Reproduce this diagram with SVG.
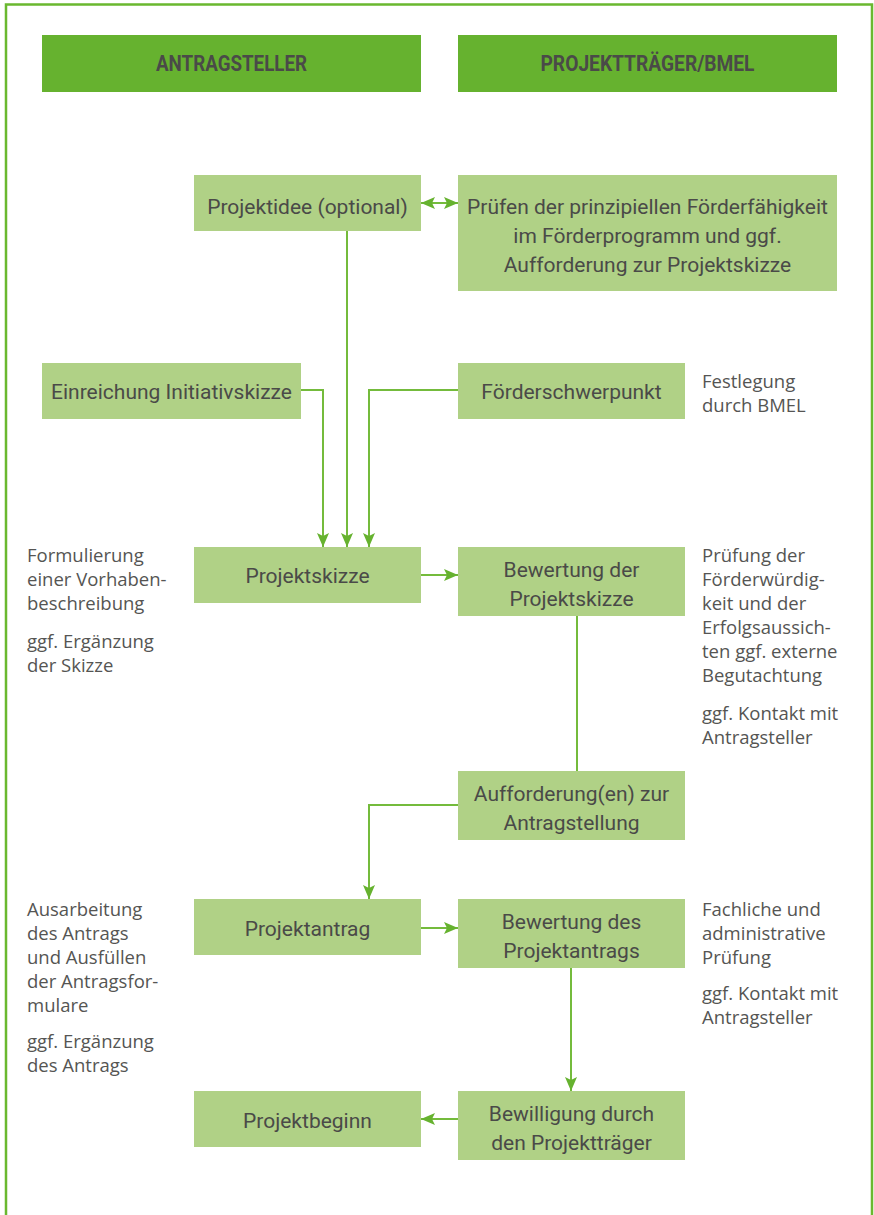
<svg xmlns="http://www.w3.org/2000/svg" width="874" height="1215" viewBox="0 0 874 1215">
<defs>
<style>
.hdr{fill:#66b22f}
.box{fill:#b0d186}
.ht{font-family:Roboto,"Liberation Sans",sans-serif;font-weight:bold;font-size:22px;fill:#4a4a48;text-anchor:middle}
.nt{font-family:Roboto,"Liberation Sans",sans-serif;font-size:21px;fill:#4a4a48;text-anchor:middle}
.st{font-family:"Open Sans","Liberation Sans",sans-serif;font-size:18.5px;fill:#555553}
.ln{fill:none;stroke:#74bb3c;stroke-width:2}
</style>
<marker id="ah" viewBox="0 0 14 12" refX="14" refY="6" markerWidth="14" markerHeight="12" markerUnits="userSpaceOnUse" orient="auto-start-reverse">
<path d="M0,0 L14,6 L0,12 L3,6 Z" fill="#66b22f"/>
</marker>
</defs>
<path d="M6,1215 V4.5 H872 V1215" fill="none" stroke="#6ab82f" stroke-width="2.5"/>

<g id="h1"><rect class="hdr" x="42" y="35" width="379" height="57"/><text class="ht" x="231.5" y="71" textLength="151" lengthAdjust="spacingAndGlyphs">ANTRAGSTELLER</text></g>
<g id="h2"><rect class="hdr" x="458" y="35" width="379" height="57"/><text class="ht" x="647.5" y="71" textLength="214" lengthAdjust="spacingAndGlyphs">PROJEKTTRÄGER/BMEL</text></g>

<g id="connectors">
<line class="ln" x1="421" y1="203" x2="458" y2="203" marker-start="url(#ah)" marker-end="url(#ah)"/>
<line class="ln" x1="347" y1="231" x2="347" y2="547" marker-end="url(#ah)"/>
<polyline class="ln" points="301,390 323,390 323,547" marker-end="url(#ah)"/>
<polyline class="ln" points="458,390 369,390 369,547" marker-end="url(#ah)"/>
<line class="ln" x1="421" y1="575" x2="458" y2="575" marker-end="url(#ah)"/>
<line class="ln" x1="577" y1="616" x2="577" y2="771"/>
<polyline class="ln" points="458,805 369,805 369,899" marker-end="url(#ah)"/>
<line class="ln" x1="421" y1="928" x2="458" y2="928" marker-end="url(#ah)"/>
<line class="ln" x1="571" y1="968" x2="571" y2="1091" marker-end="url(#ah)"/>
<line class="ln" x1="458" y1="1119" x2="421" y2="1119" marker-end="url(#ah)"/>
</g>

<g id="n1"><rect class="box" x="194" y="175" width="227" height="56"/><text class="nt" x="307.5" y="214">Projektidee (optional)</text></g>
<g id="n2"><rect class="box" x="458" y="175" width="379" height="116"/><text class="nt" x="647.5" y="214">Prüfen der prinzipiellen Förderfähigkeit</text><text class="nt" x="647.5" y="243">im Förderprogramm und ggf.</text><text class="nt" x="647.5" y="272">Aufforderung zur Projektskizze</text></g>
<g id="n3"><rect class="box" x="42" y="363" width="259" height="56"/><text class="nt" x="171.5" y="399">Einreichung Initiativskizze</text></g>
<g id="n4"><rect class="box" x="458" y="363" width="227" height="56"/><text class="nt" x="571.5" y="399">Förderschwerpunkt</text></g>
<g id="n5"><rect class="box" x="194" y="547" width="227" height="56"/><text class="nt" x="307.5" y="583">Projektskizze</text></g>
<g id="n6"><rect class="box" x="458" y="547" width="227" height="69"/><text class="nt" x="571.5" y="577">Bewertung der</text><text class="nt" x="571.5" y="606">Projektskizze</text></g>
<g id="n7"><rect class="box" x="458" y="771" width="227" height="69"/><text class="nt" x="571.5" y="801">Aufforderung(en) zur</text><text class="nt" x="571.5" y="830">Antragstellung</text></g>
<g id="n8"><rect class="box" x="194" y="899" width="227" height="56"/><text class="nt" x="307.5" y="936">Projektantrag</text></g>
<g id="n9"><rect class="box" x="458" y="899" width="227" height="69"/><text class="nt" x="571.5" y="929">Bewertung des</text><text class="nt" x="571.5" y="958">Projektantrags</text></g>
<g id="n10"><rect class="box" x="194" y="1091" width="227" height="56"/><text class="nt" x="307.5" y="1128">Projektbeginn</text></g>
<g id="n11"><rect class="box" x="458" y="1091" width="227" height="69"/><text class="nt" x="571.5" y="1121">Bewilligung durch</text><text class="nt" x="571.5" y="1150">den Projektträger</text></g>

<g id="notes">
<text class="st" x="702" y="388">Festlegung</text>
<text class="st" x="702" y="412">durch BMEL</text>
<text class="st" x="27" y="562">Formulierung</text>
<text class="st" x="27" y="586">einer Vorhaben-</text>
<text class="st" x="27" y="610">beschreibung</text>
<text class="st" x="27" y="648">ggf. Ergänzung</text>
<text class="st" x="27" y="672">der Skizze</text>
<text class="st" x="702" y="562">Prüfung der</text>
<text class="st" x="702" y="586">Förderwürdig-</text>
<text class="st" x="702" y="610">keit und der</text>
<text class="st" x="702" y="634">Erfolgsaussich-</text>
<text class="st" x="702" y="658">ten ggf. externe</text>
<text class="st" x="702" y="682">Begutachtung</text>
<text class="st" x="702" y="720">ggf. Kontakt mit</text>
<text class="st" x="702" y="744">Antragsteller</text>
<text class="st" x="27" y="916">Ausarbeitung</text>
<text class="st" x="27" y="940">des Antrags</text>
<text class="st" x="27" y="964">und Ausfüllen</text>
<text class="st" x="27" y="988">der Antragsfor-</text>
<text class="st" x="27" y="1012">mulare</text>
<text class="st" x="27" y="1048">ggf. Ergänzung</text>
<text class="st" x="27" y="1072">des Antrags</text>
<text class="st" x="702" y="916">Fachliche und</text>
<text class="st" x="702" y="940">administrative</text>
<text class="st" x="702" y="964">Prüfung</text>
<text class="st" x="702" y="1000">ggf. Kontakt mit</text>
<text class="st" x="702" y="1024">Antragsteller</text>
</g>
</svg>
